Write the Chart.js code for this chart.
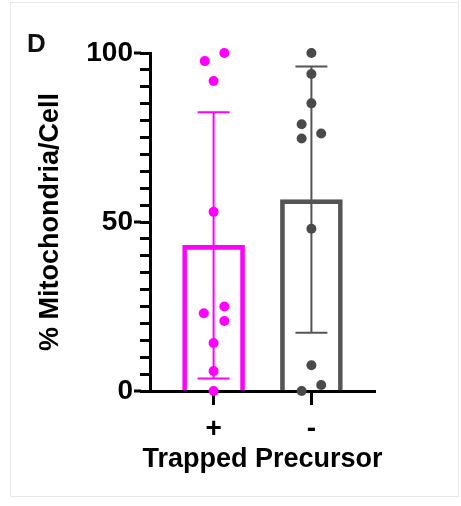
<!DOCTYPE html>
<html>
<head>
<meta charset="utf-8">
<script src="https://cdn.jsdelivr.net/npm/chart.js@4/dist/chart.umd.min.js"></script>
<style>
    body { margin: 0; background: #fff; }
    #frame { position: absolute; left: 10px; top: 2px; width: 447px; height: 493px; border: 1px solid #e8e8e8; }
    #chart { position: absolute; left: 0; top: 0; }
</style>
</head>
<body>
<div id="frame"></div>
<canvas id="chart" width="461" height="506"></canvas>
<script>
// groups on the x axis
const groupLabels = ['+', '-'];
const xPositions = [0, 1];
const xTitle = 'Trapped Precursor';

// bar heights (mean) and error bars (SD)
const means = [43.1, 56.6];
const sds = [39.4, 39.4];

// individual cells, % mitochondria per cell
const plusValues = [100, 97.6, 91.7, 53, 25, 23, 20.7, 14.2, 5.9, 0];
const plusJitter = [0.11, -0.09, 0, 0, 0.11, -0.1, 0.11, 0, 0, 0];
const minusValues = [100, 93.8, 85.1, 78.9, 76.2, 74.7, 48, 7.6, 1.8, 0];
const minusJitter = [0, 0, 0, -0.1, 0.1, -0.1, 0, 0, 0.1, -0.1];

// y axis ticks
const yMajorTicks = [0, 50, 100];

const MAGENTA = '#ff00ff';
const GREY = '#555555';
const DOT_GREY = '#4a4a4a';
const FONT = '"Liberation Sans", Arial, Helvetica, sans-serif';

const toPoints = (values, jitter, group) => values.map((v, i) => ({ x: xPositions[group] + jitter[i], y: v }));

const extras = {
    id: 'extras',
    afterDatasetDraw: (chart, args) => {
        if (args.index !== 0) return;
        const xs = chart.scales.x;
        const ys = chart.scales.y;
        const ctx = chart.ctx;
        const colors = [MAGENTA, GREY];
        ctx.save();
        means.forEach((m, i) => {
            const cx = xs.getPixelForValue(xPositions[i]);
            const top = ys.getPixelForValue(m + sds[i]);
            const bot = ys.getPixelForValue(Math.max(m - sds[i], 0));
            ctx.strokeStyle = colors[i];
            ctx.lineWidth = 2;
            ctx.beginPath();
            ctx.moveTo(cx, top);
            ctx.lineTo(cx, bot);
            ctx.moveTo(cx - 16, top);
            ctx.lineTo(cx + 16, top);
            ctx.moveTo(cx - 16, bot);
            ctx.lineTo(cx + 16, bot);
            ctx.stroke();
        });
        ctx.restore();
    },
    afterDraw: (chart) => {
        const ys = chart.scales.y;
        const ctx = chart.ctx;
        const area = chart.chartArea;
        ctx.save();
        // longer major ticks
        ctx.strokeStyle = '#000';
        ctx.lineWidth = 3;
        yMajorTicks.forEach(v => {
            const py = ys.getPixelForValue(v);
            ctx.beginPath();
            ctx.moveTo(area.left - 16, py);
            ctx.lineTo(area.left - 9, py);
            ctx.stroke();
        });
        // x axis title (drawn here so it is not squeezed to the axis width)
        ctx.fillStyle = '#000';
        ctx.font = 'bold 27px ' + FONT;
        ctx.textAlign = 'center';
        ctx.textBaseline = 'alphabetic';
        ctx.fillText(xTitle, (area.left + area.right) / 2, 467);
        // panel letter
        ctx.fillStyle = '#111';
        ctx.font = 'bold 26px ' + FONT;
        ctx.textAlign = 'left';
        ctx.fillText('D', 27, 52);
        ctx.restore();
    }
};

const ctx = document.getElementById('chart').getContext('2d');

new Chart(ctx, {
    type: 'bar',
    data: {
        datasets: [
            {
                type: 'bar',
                data: xPositions.map((x, i) => ({ x: x, y: means[i] })),
                backgroundColor: 'rgba(255,255,255,0)',
                borderColor: [MAGENTA, GREY],
                borderWidth: 4,
                barThickness: 62,
                order: 2
            },
            {
                type: 'scatter',
                data: toPoints(plusValues, plusJitter, 0),
                backgroundColor: MAGENTA,
                borderWidth: 0,
                pointRadius: 5,
                clip: false,
                order: 1
            },
            {
                type: 'scatter',
                data: toPoints(minusValues, minusJitter, 1),
                backgroundColor: DOT_GREY,
                borderWidth: 0,
                pointRadius: 5,
                clip: false,
                order: 1
            }
        ]
    },
    options: {
        responsive: false,
        animation: false,
        layout: {
            padding: { left: 31, right: 86, top: 53, bottom: 31 }
        },
        plugins: {
            legend: { display: false },
            tooltip: { enabled: false }
        },
        scales: {
            x: {
                type: 'linear',
                min: -0.65,
                max: 1.65,
                offset: false,
                afterBuildTicks: (scale) => {
                    scale.ticks = xPositions.map(v => ({ value: v }));
                },
                afterFit: (scale) => {
                    scale.height = 84;
                },
                ticks: {
                    autoSkip: false,
                    maxRotation: 0,
                    padding: 7,
                    color: '#000',
                    font: { family: FONT, size: 28, weight: 'bold' },
                    callback: (v) => groupLabels[xPositions.indexOf(v)]
                },
                grid: {
                    offset: false,
                    drawOnChartArea: false,
                    color: '#000',
                    tickColor: '#000',
                    tickWidth: 3,
                    tickLength: 14
                },
                border: { display: true, color: '#000', width: 3 },
                title: { display: false }
            },
            y: {
                min: 0,
                max: 100,
                afterFit: (scale) => {
                    scale.width = 119;
                },
                ticks: {
                    stepSize: 5,
                    autoSkip: false,
                    padding: 7,
                    color: '#000',
                    font: { family: FONT, size: 28, weight: 'bold' },
                    callback: (v) => yMajorTicks.includes(v) ? String(v) : ''
                },
                grid: {
                    drawOnChartArea: false,
                    color: '#000',
                    tickColor: '#000',
                    tickWidth: 3,
                    tickLength: 10
                },
                border: { display: true, color: '#000', width: 3 },
                title: {
                    display: true,
                    text: '% Mitochondria/Cell',
                    color: '#000',
                    padding: { top: 3, bottom: 0 },
                    font: { family: FONT, size: 27, weight: 'bold' }
                }
            }
        }
    },
    plugins: [extras]
});
</script>
</body>
</html>
